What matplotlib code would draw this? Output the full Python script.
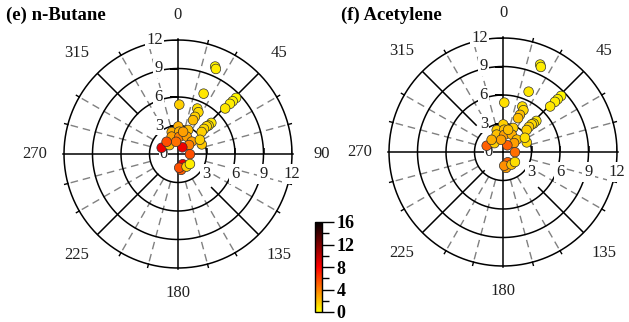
import numpy as np
import matplotlib
matplotlib.use("Agg")
import matplotlib.pyplot as plt
from matplotlib.colors import LinearSegmentedColormap, Normalize
from matplotlib.cm import ScalarMappable

plt.rcParams['font.family'] = ['Liberation Serif', 'DejaVu Serif']

# wind direction (deg, clockwise from north) and wind speed (m/s)
wind_dir = [23, 24, 23, 1.5, 23, 26, 24.5, 24, 46, 46,
            46, 46, 47, 47, 46, 46, 47, 68, 0.5, 344,
            3, 23, 340, 4, 27, 48, 51, 33, 291, 316,
            351, 317, 91, 155, 169, 175, 146, 130, 57, 13]
wind_spd = [10.0, 9.8, 6.9, 5.2, 5.2, 4.9, 4.3, 3.9, 8.5, 8.0,
            7.6, 6.9, 4.8, 4.4, 4.2, 3.8, 3.4, 2.7, 2.9, 2.4,
            2.35, 2.75, 1.95, 1.8, 2.05, 1.95, 1.5, 0.84, 1.84, 1.3,
            1.3, 1.76, 1.26, 1.19, 1.7, 1.45, 1.6, 1.64, 2.75, 2.4]

# mixing ratios (ppbv)
butane = [0.3, 0.6, 0.8, 1.5, 1.0, 1.2, 1.5, 2.0, 0.3, 0.5,
          0.6, 0.8, 0.8, 1.0, 1.2, 1.2, 1.5, 1.8, 2.5, 2.5,
          2.5, 2.0, 3.0, 4.0, 3.0, 3.0, 4.0, 8.5, 8.5, 2.0,
          4.5, 5.5, 5.5, 8.5, 5.0, 5.5, 1.5, 0.5, 1.5, 3.0]
acetylene = [0.4, 0.6, 0.8, 1.0, 1.0, 1.2, 2.0, 2.0, 0.3, 0.5,
             0.6, 0.8, 0.8, 1.0, 1.2, 1.5, 1.5, 1.2, 1.5, 1.5,
             2.0, 1.5, 2.0, 3.0, 2.5, 2.0, 3.0, 5.0, 5.0, 1.5,
             3.0, 2.5, 4.5, 5.0, 3.0, 3.5, 2.0, 1.0, 1.0, 2.0]

ring_vals = [3, 6, 9, 12]
angle_labels = [0, 45, 90, 135, 180, 225, 270, 315]
cbar_ticks = [0, 4, 8, 12, 16]

cmap = LinearSegmentedColormap.from_list('yhot', ['#ffff00', '#ff0000', '#000000'])
norm = Normalize(0, 16)

W, H = 629, 322
fig = plt.figure(figsize=(W / 100, H / 100), dpi=100)

LBL = '#202020'


def polar_panel(cx, cy, rad, conc, title, tx, diag_start, angles):
    ax = fig.add_axes([(cx - rad) / W, (H - cy - rad) / H, 2 * rad / W, 2 * rad / H],
                      projection='polar')
    ax.set_theta_zero_location('N')
    ax.set_theta_direction(-1)
    ax.set_ylim(0, 12)
    ax.grid(False)
    ax.set_xticks([])
    ax.set_yticks([])
    ax.spines['polar'].set_visible(False)
    ax.patch.set_alpha(0)

    th = np.linspace(0, 2 * np.pi, 400)
    for r in ring_vals:
        ax.plot(th, np.full_like(th, r), color='k', lw=1.1, zorder=2, clip_on=False)

    # dashed spokes every 15 deg
    for a in range(15, 360, 15):
        if a % 45 == 0:
            continue
        t = np.radians(a)
        ax.plot([t, t], [3, 12], color='#808080', lw=1.0, dashes=(5.5, 3.5), zorder=1)
        ax.plot([t, t], [12, 12.35], color='k', lw=1.0, zorder=2, clip_on=False)

    # solid spokes
    for a, r0 in zip([45, 135, 225, 315], diag_start):
        t = np.radians(a)
        ax.plot([t, t], [r0, 12], color='k', lw=1.1, zorder=2)
    for a in [0, 90, 180, 270]:
        t = np.radians(a)
        ax.plot([t, t], [0, 12.1], color='k', lw=1.1, zorder=2, clip_on=False)

    # radial axis ticks and labels
    for r in ring_vals:
        ax.plot([0], [r], marker=0, ms=6, mew=1.1, color='k', zorder=2)
        ax.plot([np.pi / 2], [r], marker=2, ms=4, mew=1.1, color='k', zorder=2)
        ax.annotate(str(r), xy=(0, r), xytext=(-10.8, 0), textcoords='offset points',
                    ha='right', va='center', fontsize=12, color=LBL, zorder=3,
                    bbox=dict(boxstyle='square,pad=0.08', fc='white', ec='none'))
        ax.annotate(str(r), xy=(np.pi / 2, r), xytext=(0, -14.4), textcoords='offset points',
                    ha='center', va='center', fontsize=12, color=LBL, zorder=3,
                    bbox=dict(boxstyle='square,pad=0.12', fc='white', ec='none'))
    ax.annotate('0', xy=(0, 0), xytext=(-7.5, 0), textcoords='offset points',
                ha='right', va='center', fontsize=12, color=LBL, zorder=3,
                bbox=dict(boxstyle='square,pad=0.05', fc='white', ec='none'))

    for a in angles:
        rr = 14.6 if a in (0, 180) else 15.1
        ax.text(np.radians(a), rr, str(a), ha='center', va='center', fontsize=12,
                color=LBL, clip_on=False)

    ax.scatter(np.radians(wind_dir), wind_spd, c=conc, cmap=cmap, norm=norm, s=48,
               edgecolors='#303030', linewidths=0.5, zorder=4, clip_on=False)

    fig.text(tx / W, 1 - 15 / H, title, fontsize=13.5, fontweight='bold',
             ha='left', va='center')
    return ax


polar_panel(178, 154, 114, butane, '(e) n-Butane', 6, [3.5, 5.0, 3.0, 6.0],
            angle_labels)
# the 90 label of the right panel falls past the figure edge
polar_panel(503, 152, 114, acetylene, '(f) Acetylene', 341, [3.5, 5.3, 2.8, 4.0],
            [a for a in angle_labels if a != 90])

# colour scale
cax = fig.add_axes([315 / W, 10 / H, 7 / W, 90 / H])
cb = fig.colorbar(ScalarMappable(norm=norm, cmap=cmap), cax=cax)
cb.set_ticks(cbar_ticks)
cb.ax.set_yticks([2, 6, 10, 14], minor=True)
cb.outline.set_linewidth(1.0)
cb.ax.tick_params(which='major', length=8.5, width=1.0, direction='out', pad=2)
cb.ax.tick_params(which='minor', length=5, width=1.0, direction='out')
for lab in cb.ax.get_yticklabels():
    lab.set_fontweight('bold')
    lab.set_fontsize(13)

fig.savefig('out.png', dpi=100)
